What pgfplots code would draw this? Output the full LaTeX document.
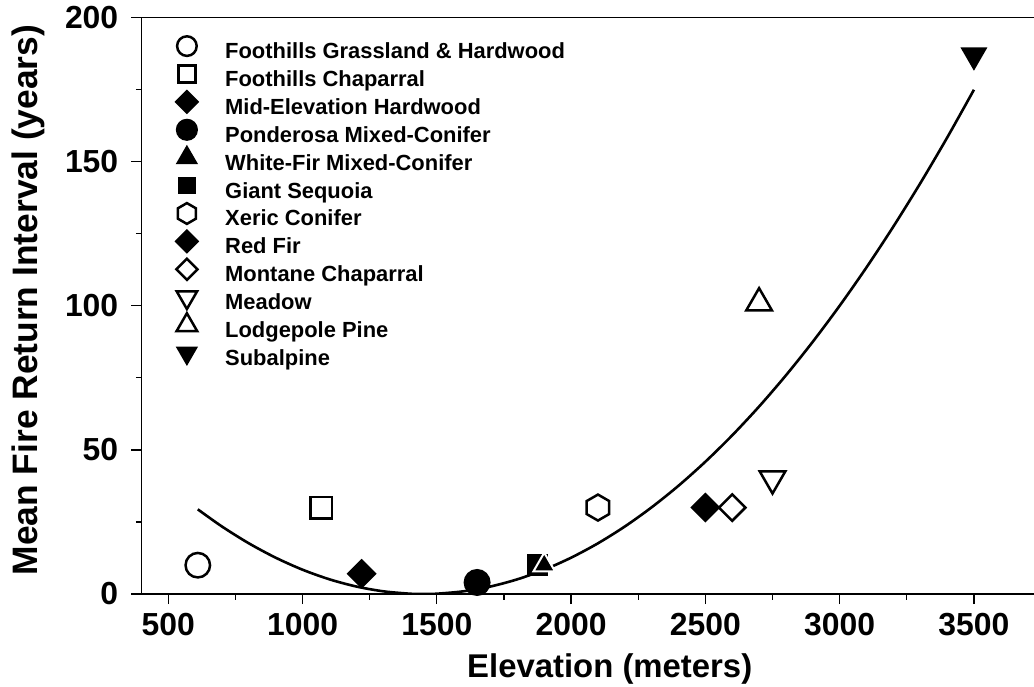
\documentclass[border=0pt]{standalone}
\usepackage{fontspec}
\setmainfont{Liberation Sans}
\usepackage{pgfplots}
\pgfplotsset{compat=1.18}
\pgfdeclareplotmark{hexagon}{%
  \pgfpathmoveto{\pgfqpoint{0pt}{\pgfplotmarksize}}%
  \pgfpathlineto{\pgfqpoint{-0.8660\pgfplotmarksize}{0.5\pgfplotmarksize}}%
  \pgfpathlineto{\pgfqpoint{-0.8660\pgfplotmarksize}{-0.5\pgfplotmarksize}}%
  \pgfpathlineto{\pgfqpoint{0pt}{-\pgfplotmarksize}}%
  \pgfpathlineto{\pgfqpoint{0.8660\pgfplotmarksize}{-0.5\pgfplotmarksize}}%
  \pgfpathlineto{\pgfqpoint{0.8660\pgfplotmarksize}{0.5\pgfplotmarksize}}%
  \pgfpathclose
  \pgfusepathqstroke}
\pgfplotstableread{
x y
610 29.38
700 23.42
800 17.59
900 12.60
1000 8.43
1100 5.10
1200 2.60
1300 0.94
1400 0.10
1450 0.00
1500 0.10
1600 0.94
1700 2.60
1800 5.10
1900 8.43
2000 12.60
2100 17.59
2200 23.42
2300 30.09
2400 37.58
2500 45.91
2600 55.07
2700 65.06
2800 75.89
2900 87.55
3000 100.04
3100 113.36
3200 127.52
3300 142.51
3400 158.34
3500 174.99
}\fitcurve
\begin{document}
\begin{tikzpicture}
\useasboundingbox (-141.4bp,-93bp) rectangle (892.6bp,594bp);
\begin{axis}[
  at={(0,0)}, anchor=south west,
  scale only axis, width=894.3bp, height=576.3bp,
  xmin=400, xmax=3730, ymin=0, ymax=200,
  xtick={500,1000,...,3500}, ytick={0,50,...,200},
  minor x tick num=1, minor y tick num=1,
  xtick pos=bottom, ytick pos=left,
  tick align=outside,
  major tick length=10bp, minor tick length=5.5bp,
  axis line style={line width=1.2bp},
  every tick/.append style={line width=1.2bp, black},
  /pgf/number format/assume math mode=true,
  /pgf/number format/1000 sep={},
  ticklabel style={font=\bfseries\fontsize{32}{32}\selectfont},
  xticklabel style={anchor=north, inner sep=0pt, yshift=-9.3bp},
  yticklabel style={anchor=east, inner sep=0pt, xshift=-13bp},
  xlabel={Elevation (meters)},
  ylabel={Mean Fire Return Interval (years)},
  xlabel style={font=\bfseries\fontsize{33}{33}\selectfont, at={(axis description cs:0.5237,-0.1445)}, anchor=base},
  ylabel style={font=\bfseries\fontsize{35.5}{35.5}\selectfont, at={(axis description cs:-0.1260,0.51)}, anchor=center},
  legend image code/.code={%
    \draw[#1, overlay, every mark/.append style={scale=0.8}] plot coordinates {(0bp,7.5bp)};
    \path[draw=none, fill=none] (-14bp,0bp) rectangle (14bp,15bp);},
  legend style={at={(axis description cs:0,1)}, anchor=north west, xshift=31.3bp, yshift=-20.7bp,
    draw=none, fill=none, inner sep=0pt, row sep=2.9bp,
    font=\bfseries\fontsize{22}{22}\selectfont,
    nodes={inner sep=0pt, text height=15bp, text depth=5bp},
    /tikz/every odd column/.append style={column sep=24.3bp}},
  legend cell align=left,
]
% legend
\addlegendimage{black, line width=2.5bp, mark=o, mark size=12.25bp}
\addlegendentry{Foothills Grassland \& Hardwood}
\addlegendimage{black, line width=2.5bp, mark=square, mark size=10.75bp}
\addlegendentry{Foothills Chaparral}
\addlegendimage{black, line width=2.5bp, mark=square*, mark size=9.35bp, mark options={rotate=45}}
\addlegendentry{Mid-Elevation Hardwood}
\addlegendimage{black, line width=2.5bp, mark=*, mark size=12.25bp}
\addlegendentry{Ponderosa Mixed-Conifer}
\addlegendimage{black, line width=2.5bp, mark=triangle*, mark size=13bp}
\addlegendentry{White-Fir Mixed-Conifer}
\addlegendimage{black, line width=2.5bp, mark=square*, mark size=9.25bp}
\addlegendentry{Giant Sequoia}
\addlegendimage{black, line width=2.5bp, mark=hexagon, mark size=13bp}
\addlegendentry{Xeric Conifer}
\addlegendimage{black, line width=2.5bp, mark=square*, mark size=9.35bp, mark options={rotate=45}}
\addlegendentry{Red Fir}
\addlegendimage{black, line width=2.5bp, mark=square, mark size=9.35bp, mark options={rotate=45}}
\addlegendentry{Montane Chaparral}
\addlegendimage{black, line width=2.5bp, mark=triangle, mark size=14.8bp, mark options={rotate=180}}
\addlegendentry{Meadow}
\addlegendimage{black, line width=2.5bp, mark=triangle, mark size=14.8bp}
\addlegendentry{Lodgepole Pine}
\addlegendimage{black, line width=2.5bp, mark=triangle*, mark size=13.1bp, mark options={rotate=180}}
\addlegendentry{Subalpine}
% fitted curve
\addplot[black, line width=2.6bp, no markers, smooth, forget plot] table {\fitcurve};
% data
\addplot[black, line width=2.5bp, only marks, mark=o, mark size=12.25bp, forget plot] coordinates {(610,10)};
\addplot[black, line width=2.5bp, only marks, mark=square, mark size=10.75bp, forget plot] coordinates {(1070,30)};
\addplot[black, line width=2.5bp, only marks, mark=square*, mark size=9.35bp, mark options={rotate=45}, forget plot] coordinates {(1220,7)};
\addplot[black, line width=2.5bp, only marks, mark=*, mark size=12.25bp, forget plot] coordinates {(1650,4)};
\addplot[black, line width=2.5bp, only marks, mark=square*, mark size=9.5bp, forget plot] coordinates {(1875,10)};
\addplot[black, line width=2bp, only marks, mark=triangle*, mark size=12.5bp, mark options={draw=white, fill=black}, forget plot] coordinates {(1900,10)};
\addplot[black, line width=2.5bp, only marks, mark=hexagon, mark size=13bp, forget plot] coordinates {(2100,30)};
\addplot[black, line width=2.5bp, only marks, mark=square*, mark size=9.35bp, mark options={rotate=45}, forget plot] coordinates {(2500,30)};
\addplot[black, line width=2.5bp, only marks, mark=square, mark size=9.35bp, mark options={rotate=45}, forget plot] coordinates {(2600,30)};
\addplot[black, line width=2.5bp, only marks, mark=triangle, mark size=14.8bp, mark options={rotate=180}, forget plot] coordinates {(2750,40)};
\addplot[black, line width=2.5bp, only marks, mark=triangle, mark size=14.8bp, forget plot] coordinates {(2700,101)};
\addplot[black, line width=2.5bp, only marks, mark=triangle*, mark size=13.1bp, mark options={rotate=180}, forget plot] coordinates {(3500,187)};
\end{axis}
\end{tikzpicture}
\end{document}
